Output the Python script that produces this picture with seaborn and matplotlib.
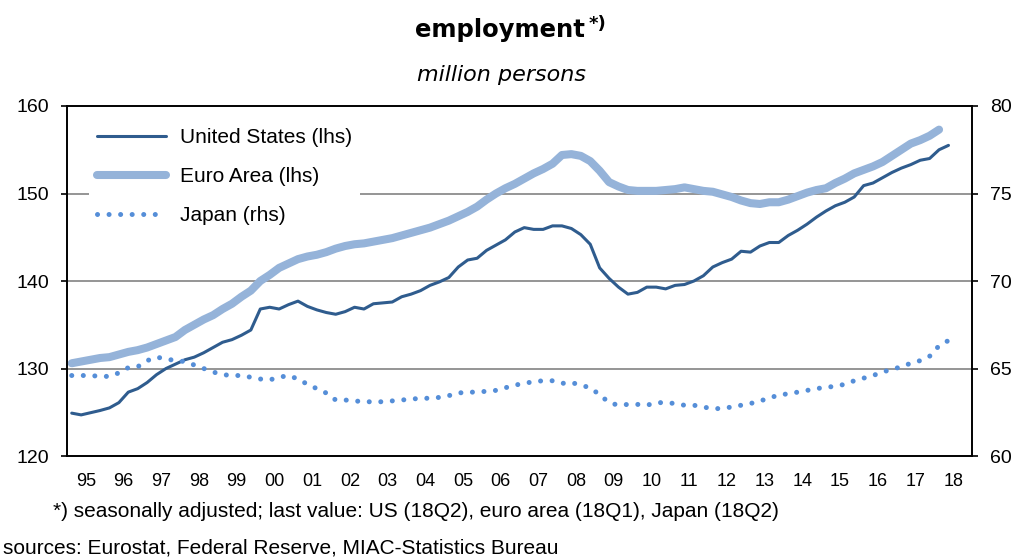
import numpy as np
import pandas as pd
import matplotlib
matplotlib.use("Agg")
import matplotlib.pyplot as plt
import seaborn as sns

# quarterly employment, million persons
us = [124.9, 124.7, 124.95, 125.2,
      125.5, 126.1, 127.3, 127.7,
      128.4, 129.3, 130.0, 130.5,
      131.0, 131.3, 131.8, 132.4,
      133.0, 133.3, 133.8, 134.4,
      136.8, 137.0, 136.8, 137.3,
      137.7, 137.1, 136.7, 136.4,
      136.2, 136.5, 137.0, 136.8,
      137.4, 137.5, 137.6, 138.2,
      138.5, 138.9, 139.5, 139.9,
      140.4, 141.6, 142.4, 142.6,
      143.5, 144.1, 144.7, 145.6,
      146.1, 145.9, 145.9, 146.3,
      146.3, 146.0, 145.3, 144.2,
      141.5, 140.3, 139.3, 138.5,
      138.7, 139.3, 139.3, 139.1,
      139.5, 139.6, 140.0, 140.6,
      141.6, 142.1, 142.5, 143.4,
      143.3, 144.0, 144.4, 144.4,
      145.2, 145.8, 146.5, 147.3,
      148.0, 148.6, 149.0, 149.6,
      150.9, 151.2, 151.8, 152.4,
      152.9, 153.3, 153.8, 154.0,
      155.0, 155.5]
euro = [130.6, 130.8, 131.0, 131.2,
        131.3, 131.6, 131.9, 132.1,
        132.4, 132.8, 133.2, 133.6,
        134.4, 135.0, 135.6, 136.1,
        136.8, 137.4, 138.2, 138.9,
        140.0, 140.7, 141.5, 142.0,
        142.5, 142.8, 143.0, 143.3,
        143.7, 144.0, 144.2, 144.3,
        144.5, 144.7, 144.9, 145.2,
        145.5, 145.8, 146.1, 146.5,
        146.9, 147.4, 147.9, 148.5,
        149.3, 150.0, 150.6, 151.1,
        151.7, 152.3, 152.8, 153.4,
        154.4, 154.5, 154.3, 153.7,
        152.6, 151.3, 150.8, 150.4,
        150.3, 150.3, 150.3, 150.4,
        150.5, 150.7, 150.5, 150.3,
        150.2, 149.9, 149.6, 149.2,
        148.9, 148.8, 149.0, 149.0,
        149.3, 149.7, 150.1, 150.4,
        150.6, 151.2, 151.7, 152.3,
        152.7, 153.1, 153.6, 154.3,
        155.0, 155.7, 156.1, 156.6,
        157.3]
japan = [64.6, 64.6, 64.6, 64.55,
         64.55, 64.75, 65.05, 65.1,
         65.45, 65.65, 65.55, 65.45,
         65.4, 65.2, 65.0, 64.8,
         64.65, 64.6, 64.6, 64.5,
         64.4, 64.35, 64.5, 64.6,
         64.4, 64.1, 63.85, 63.6,
         63.2, 63.2, 63.15, 63.1,
         63.1, 63.1, 63.15, 63.2,
         63.25, 63.3, 63.3, 63.35,
         63.45, 63.6, 63.65, 63.65,
         63.7, 63.75, 63.9, 64.05,
         64.15, 64.25, 64.3, 64.3,
         64.15, 64.2, 64.05, 63.9,
         63.5, 63.05, 62.9, 62.95,
         62.95, 62.9, 63.05, 63.05,
         63.0, 62.9, 62.9, 62.8,
         62.7, 62.72, 62.8, 62.9,
         63.0, 63.15, 63.3, 63.5,
         63.55, 63.65, 63.75, 63.85,
         63.93, 63.98, 64.1, 64.3,
         64.45, 64.6, 64.8, 64.95,
         65.1, 65.3, 65.45, 65.7,
         66.3, 66.6]
year_labels = ["95", "96", "97", "98", "99", "00", "01", "02", "03", "04", "05", "06",
               "07", "08", "09", "10", "11", "12", "13", "14", "15", "16", "17", "18"]

quarters = pd.period_range("1995Q1", "2018Q2", freq="Q")
t = quarters.year + (quarters.quarter - 1) / 4 + 0.125

df_us = pd.DataFrame({"t": t[:len(us)], "v": us})
df_eu = pd.DataFrame({"t": t[:len(euro)], "v": euro})
df_jp = pd.DataFrame({"t": t[:len(japan)], "v": japan})

sns.set_style("white")
plt.rcParams["font.family"] = ["Liberation Sans", "DejaVu Sans"]
plt.rcParams["text.color"] = "black"
plt.rcParams["xtick.color"] = "black"
plt.rcParams["ytick.color"] = "black"

fig = plt.figure(figsize=(10.17, 5.57), dpi=100)
ax = fig.add_axes([0.0659, 0.1813, 0.8899, 0.6284])
ax2 = ax.twinx()

c_us = "#2F5C8E"
c_eu = "#95B3D9"
c_jp = "#558ED8"

sns.lineplot(data=df_eu, x="t", y="v", ax=ax, color=c_eu, linewidth=5.8,
             solid_capstyle="round", label="Euro Area (lhs)", legend=False, zorder=6)
sns.lineplot(data=df_us, x="t", y="v", ax=ax, color=c_us, linewidth=2.2,
             solid_capstyle="round", label="United States (lhs)", legend=False, zorder=7)
sns.lineplot(data=df_jp, x="t", y="v", ax=ax2, color=c_jp, linewidth=3.6,
             dashes=False, label="Japan (rhs)", legend=False)
jl = ax2.get_lines()[0]
jl.set_dashes((0.01, 2.3))
jl.set_dash_capstyle("round")

ax.set_xlim(1995, 2019)
ax.set_ylim(120, 160)
ax2.set_ylim(60, 80)
ax.set_yticks([120, 130, 140, 150, 160])
ax2.set_yticks([60, 65, 70, 75, 80])
ax.set_xlabel("")
ax.set_ylabel("")
ax2.set_ylabel("")

# year boundaries as ticks, labels centred in each year
ax.set_xticks(np.arange(1995, 2020))
ax.set_xticklabels([])
ax.set_xticks(np.arange(1995, 2019) + 0.5, minor=True)
ax.set_xticklabels(year_labels, minor=True)
ax.tick_params(axis="x", which="major", direction="out", length=4, width=1.2, color="black")
ax.tick_params(axis="x", which="minor", length=0, pad=12, labelsize=13)
ax.tick_params(axis="y", direction="out", length=4, width=1.2, color="black", pad=9, labelsize=14)
ax2.tick_params(axis="y", direction="out", length=4, width=1.2, color="black", pad=9, labelsize=14)

for yv in [130, 140, 150]:
    ax.axhline(yv, color="#8C8C8C", linewidth=1.3, zorder=0)

for a in (ax, ax2):
    for s in a.spines.values():
        s.set_color("black")
        s.set_linewidth(1.2)

handles = [ax.get_lines()[1], ax.get_lines()[0], jl]
labels = ["United States (lhs)", "Euro Area (lhs)", "Japan (rhs)"]
leg = ax.legend(handles, labels, loc="upper left", bbox_to_anchor=(0.011, 0.994),
                fontsize=15, frameon=True, facecolor="white", edgecolor="none",
                framealpha=1, fancybox=False, handlelength=3.3, handletextpad=0.7,
                labelspacing=0.96, borderpad=0.35, borderaxespad=0.6)
leg.set_zorder(5)

fig.text(0.492, 0.9336, "employment", ha="center", va="baseline",
         fontsize=17.5, fontweight="bold", family="DejaVu Sans")
fig.text(0.579, 0.948, "*)", ha="left", va="baseline",
         fontsize=13, fontweight="bold", family="DejaVu Sans")
fig.text(0.493, 0.8546, "million persons", ha="center", va="baseline",
         fontsize=16, style="italic", family="DejaVu Sans")

fig.text(0.052, 0.072, "*) seasonally adjusted; last value: US (18Q2), euro area (18Q1), Japan (18Q2)",
         ha="left", va="baseline", fontsize=15)
fig.text(0.003, 0.006, "sources: Eurostat, Federal Reserve, MIAC-Statistics Bureau",
         ha="left", va="baseline", fontsize=15)

fig.savefig("out.png", dpi=100)
